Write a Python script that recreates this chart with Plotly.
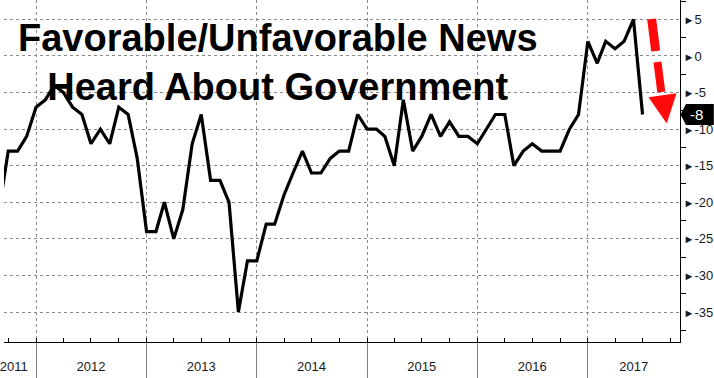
import plotly.graph_objects as go

# ---- data (monthly, Sep 2011 .. Jul 2017) ----
start_year, start_month = 2011, 9
values = [
    -21, -13, -13, -11,                                            # 2011 Sep-Dec
    -7, -6, -4, -5, -7, -8, -12, -10, -12, -7, -8, -14,            # 2012
    -24, -24, -20, -25, -21, -12, -8, -17, -17, -20, -35, -28,     # 2013
    -28, -23, -23, -19, -16, -13, -16, -16, -14, -13, -13, -8,     # 2014
    -10, -10, -11, -15, -6, -13, -11, -8, -11, -9, -11, -11,       # 2015
    -12, -10, -8, -8, -15, -13, -12, -13, -13, -13, -10, -8,       # 2016
    2, -1, 2, 1, 2, 5, -8,                                         # 2017 Jan-Jul
]
dates = []
y_, m_ = start_year, start_month
for _ in values:
    dates.append(f"{y_:04d}-{m_:02d}-01")
    m_ += 1
    if m_ > 12:
        m_ = 1
        y_ += 1

year_labels = ["2011", "2012", "2013", "2014", "2015", "2016", "2017"]
year_label_pos = ["2011-10-19", "2012-07-01", "2013-07-01", "2014-07-01",
                  "2015-07-01", "2016-07-01", "2017-06-02"]
year_bounds = ["2012-01-01", "2013-01-01", "2014-01-01", "2015-01-01",
               "2016-01-01", "2017-01-01"]
quarter_ticks = [f"{yy}-{mm:02d}-01" for yy in range(2011, 2018) for mm in (1, 4, 7, 10)]
y_ticks = [5, 0, -5, -10, -15, -20, -25, -30, -35]
y_minor = [7.5, 2.5, -2.5, -7.5, -12.5, -17.5, -22.5, -27.5, -32.5, -37.5]
last_value = values[-1]

x_range = ["2011-09-17", "2017-11-02"]
y_range = [-39.1, 7.65]

W, H = 714, 378
ML, MR, MT, MB = 0, 34, 0, 36
PW, PH = W - ML - MR, H - MT - MB

def px(x):
    return (x - ML) / PW

def py(y):
    return 1 - (y - MT) / PH

AX_FONT = dict(family="Liberation Sans, Arial, sans-serif", size=13, color="#1a1a1a")

fig = go.Figure()
fig.add_trace(go.Scatter(x=dates, y=values, mode="lines",
                         line=dict(color="black", width=3.2),
                         hoverinfo="skip", showlegend=False))
# invisible trace to anchor the label axis
fig.add_trace(go.Scatter(x=dates, y=values, mode="lines", xaxis="x2",
                         line=dict(color="rgba(0,0,0,0)", width=0),
                         hoverinfo="skip", showlegend=False))

tri = "<span style='font-size:11px'>►</span>"
fig.update_layout(
    width=W, height=H,
    margin=dict(l=ML, r=MR, t=MT, b=MB, pad=0),
    paper_bgcolor="white", plot_bgcolor="white",
    showlegend=False,
    xaxis=dict(
        type="date", range=x_range,
        tickmode="array", tickvals=year_bounds, showticklabels=False,
        ticks="outside", ticklen=36, tickcolor="#808080", tickwidth=1,
        showgrid=True, gridcolor="#8a8a8a", griddash="dot", gridwidth=1,
        showline=True, linecolor="black", linewidth=1,
        zeroline=False,
        minor=dict(tickmode="array", tickvals=quarter_ticks, ticks="inside",
                   ticklen=4, tickcolor="black", tickwidth=1, showgrid=False),
    ),
    xaxis2=dict(
        type="date", range=x_range, overlaying="x", anchor="y", side="bottom",
        tickmode="array", tickvals=year_label_pos, ticktext=year_labels,
        ticks="", showgrid=False, showline=False, zeroline=False,
        tickfont=AX_FONT, ticklabelstandoff=15, ticklabeloverflow="allow",
    ),
    yaxis=dict(
        range=y_range, side="right",
        tickmode="array", tickvals=y_ticks,
        ticktext=[tri + str(v) for v in y_ticks],
        ticks="", tickfont=AX_FONT, ticklabeloverflow="allow",
        showgrid=True, gridcolor="#8a8a8a", griddash="dot", gridwidth=1,
        showline=True, linecolor="black", linewidth=1,
        zeroline=False,
        minor=dict(tickmode="array", tickvals=y_minor, ticks="outside",
                   ticklen=5, tickcolor="black", tickwidth=1, showgrid=False),
    ),
)

# title
fig.add_annotation(
    text="Favorable/Unfavorable News<br>Heard About Government",
    xref="paper", yref="paper", x=px(276), y=py(62), xanchor="center", yanchor="middle",
    showarrow=False, align="center",
    font=dict(family="Liberation Sans, Arial, sans-serif", size=38, color="black", weight="bold"),
)

# red dashed arrow
RED = "#ff0a0a"
fig.add_shape(type="line", xref="paper", yref="paper",
              x0=px(651.5), y0=py(19), x1=px(655.5), y1=py(51),
              line=dict(color=RED, width=9))
fig.add_shape(type="line", xref="paper", yref="paper",
              x0=px(657.3), y0=py(62), x1=px(661.2), y1=py(92),
              line=dict(color=RED, width=8))
fig.add_shape(type="path", xref="paper", yref="paper",
              path=f"M {px(648.3)} {py(97.3)} L {px(676.5)} {py(93.3)} L {px(666.7)} {py(123.5)} Z",
              fillcolor=RED, line=dict(color=RED, width=0))

# last value tag
half = 10.5 / (PH / (y_range[1] - y_range[0]))
fig.add_shape(type="path", xref="paper", yref="y",
              path=(f"M {px(680.5)} {last_value} L {px(686)} {last_value + half} "
                    f"L {px(714)} {last_value + half} L {px(714)} {last_value - half} "
                    f"L {px(686)} {last_value - half} Z"),
              fillcolor="black", line=dict(color="black", width=0))
fig.add_annotation(text=str(last_value), xref="paper", yref="y",
                   x=px(697), y=last_value, xanchor="center", yanchor="middle",
                   showarrow=False,
                   font=dict(family=AX_FONT["family"], size=15, color="white"))

fig.write_html(
    "out.html",
    config={"displayModeBar": False},
    post_script="document.body.style.margin='0';document.body.style.padding='0';"
                "document.documentElement.style.overflow='hidden';",
)
